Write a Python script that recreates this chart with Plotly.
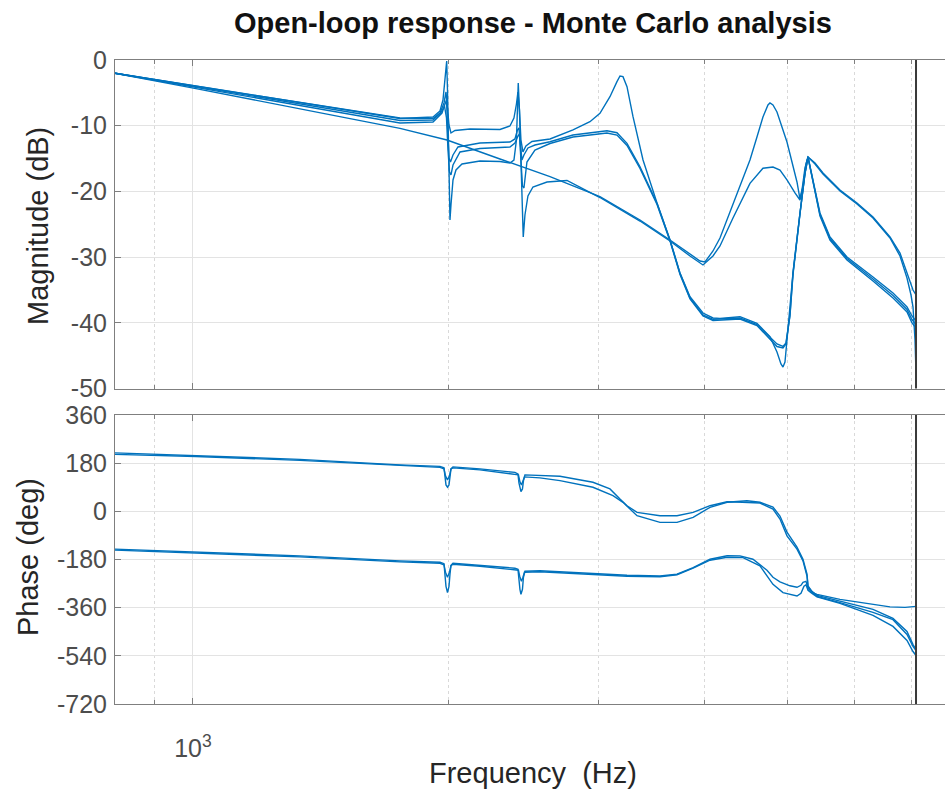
import math
import plotly.graph_objects as go

# ---------------- data ----------------
nyquist_hz = 7089.2

mag_tickvals = [-50, -40, -30, -20, -10, 0]
phase_tickvals = [-720, -540, -360, -180, 0, 180, 360]
freq_major = [1000]
freq_major_text = ["10<sup>3</sup>"]
freq_minor = [900, 2000, 3000, 4000, 5000, 6000, 7000]

# Magnitude curves (Hz, dB)
mag1_f = [809.6, 1752, 1916, 1952.5, 1973.8, 1984.5, 1992.6, 2000.7, 2011.5, 2033.5, 2118, 2297, 2359.8, 2385.6,
          2401.8, 2411.6, 2421.4, 2431.3, 2444.5, 2464.4, 2504.8, 2630.3, 2799.3, 2931, 3011.5, 3094.3, 3153.6,
          3179.5, 3205.4, 3240.4, 3293.6, 3384.2, 3514.8, 3640.7, 3740.7, 3843.5, 3981.1, 4090.4, 4168.7, 4400.7,
          4607.8, 4773, 4864.4, 4917.4, 4944.2, 4971.1, 4998.1, 5079.9, 5177.4, 5248, 5290.9, 5363, 5465.7, 5615.7,
          5880.3, 6309.6, 6660.8, 6918.3, 7012.7, 7089.2]
mag1_db = [-2.02, -8.83, -8.90, -8.07, -6.54, -4.87, -7.31, -9.89, -11.11, -10.73, -10.50, -10.58, -10.05, -8.83,
           -6.70, -4.87, -7.61, -12.18, -14.00, -13.09, -12.40, -12.02, -10.65, -9.39, -8.11, -5.59, -3.30,
           -2.44, -2.54, -4.06, -8.63, -15.22, -21.77, -27.40, -32.42, -36.03, -38.51, -39.27, -39.32, -39.07,
           -40.08, -42.12, -44.44, -46.27, -46.73, -45.97, -42.62, -32.42, -23.29, -17.20, -14.76, -18.26, -23.29,
           -26.94, -29.98, -33.03, -35.46, -37.60, -38.96, -39.73]

mag2_f = [809.6, 1752, 1916, 1963.1, 1979.1, 1987.2, 1992.6, 2000.7, 2008.8, 2022.5, 2050.1, 2175.7, 2359.8, 2392.1,
          2408.4, 2418.2, 2428, 2437.9, 2451.1, 2477.8, 2525.3, 2630.3, 2799.3, 3069.2, 3153.6, 3240.4, 3356.7,
          3514.8, 3640.7, 3740.7, 3843.5, 3981.1, 4090.4, 4400.7, 4607.8, 4773, 4864.4, 4944.2, 4984.5, 5038.8,
          5079.9, 5177.4, 5248, 5290.9, 5363, 5465.7, 5615.7, 5880.3, 6309.6, 6660.8, 6918.3, 7012.7, 7089.2]
mag2_db = [-2.02, -9.59, -9.44, -8.07, -6.70, -6.09, -9.89, -14.92, -15.53, -14.46, -13.24, -12.63, -12.48, -12.02,
           -10.65, -10.35, -12.94, -15.22, -14.46, -13.39, -12.94, -12.44, -11.42, -10.76, -11.07, -12.68, -16.24,
           -21.81, -27.40, -32.47, -36.23, -38.81, -39.47, -39.27, -40.26, -42.16, -43.23, -43.61, -43.07, -38.81,
           -32.42, -23.29, -17.20, -14.76, -18.57, -23.74, -27.40, -30.44, -33.64, -36.23, -38.36, -40.03, -40.79]

mag3_f = [809.6, 1752, 1916, 1957.8, 1976.5, 1987.2, 1995.3, 2003.4, 2011.5, 2022.5, 2061.3, 2175.7, 2359.8, 2392.1,
          2411.6, 2421.4, 2431.3, 2441.2, 2451.1, 2471.1, 2525.3, 2630.3, 2799.3, 3069.2, 3153.6, 3240.4, 3356.7,
          3514.8, 3640.7, 3740.7, 3843.5, 3981.1, 4090.4, 4400.7, 4607.8, 4773, 4864.4, 4944.2, 4984.5, 5038.8,
          5079.9, 5177.4, 5248, 5290.9, 5363, 5465.7, 5615.7, 5880.3, 6309.6, 6660.8, 6918.3, 7012.7, 7089.2]
mag3_db = [-2.02, -9.21, -9.13, -7.99, -7.00, -8.83, -13.70, -17.05, -17.50, -15.98, -14.00, -13.47, -13.24, -12.63,
           -11.57, -11.26, -15.22, -19.18, -19.48, -15.53, -13.70, -12.71, -11.72, -11.11, -11.42, -13.01, -16.51,
           -21.99, -27.55, -32.65, -36.38, -38.96, -39.65, -39.42, -40.41, -42.39, -43.61, -43.84, -43.23, -38.96,
           -32.72, -23.44, -17.35, -14.84, -18.42, -23.52, -27.17, -30.21, -33.33, -35.84, -37.98, -39.50, -40.26]

mag4_f = [809.6, 1008.2, 1752, 1989.9, 2297, 2630.3, 3011.5, 3356.7, 3640.7, 3843.5, 3948.9, 4002.7, 4090.4, 4168.7,
          4318, 4430.5, 4521.3, 4607.8, 4683.2, 4747.2, 4773, 4812, 4864.4, 4998.1, 5079.9, 5135.3, 5177.4, 5205.5,
          5248, 5290.9, 5392.2, 5510.2, 5770, 6041.8, 6309.6, 6606.9, 6788.4, 6918.3, 7031.8, 7089.2]
mag4_db = [-2.02, -4.35, -10.40, -12.18, -15.07, -17.76, -20.81, -24.35, -27.40, -29.53, -30.59, -30.75, -29.07,
           -27.09, -22.07, -18.26, -15.22, -11.72, -8.68, -6.85, -6.54, -6.85, -7.91, -12.48, -15.98, -18.57, -21.16,
           -19.79, -16.44, -14.76, -15.68, -17.20, -19.79, -21.77, -23.90, -26.94, -29.38, -32.42, -35.01, -35.77]

mag5_f = [809.6, 1752, 1916, 1952.5, 1968.4, 1979.1, 1988.3, 1992.6, 1998, 2006.1, 2011.5, 2022.5, 2039, 2072.5,
          2175.7, 2297, 2359.8, 2385.6, 2401.8, 2413.6, 2421.4, 2431.3, 2446.5, 2457.8, 2477.8, 2511.6, 2609,
          2754.2, 3011.5, 3356.7, 3640.7, 3843.5, 3981.1, 4090.4, 4168.7, 4318, 4521.3, 4683.2, 4812, 4904.1,
          4998.1, 5107.5, 5177.4, 5219.7, 5262.3, 5290.9, 5392.2, 5510.2, 5770, 6041.8, 6309.6, 6606.9, 6788.4,
          6918.3, 6993.7, 7031.8, 7070, 7089.2]
mag5_db = [-2.02, -8.90, -8.68, -7.76, -6.09, -3.35, -0.15, -4.57, -13.70, -24.35, -22.07, -18.26, -16.74, -15.83,
           -15.37, -15.45, -15.68, -15.22, -12.18, -3.50, -7.61, -16.74, -26.94, -23.59, -20.70, -19.33, -18.57,
           -18.34, -20.93, -24.51, -27.55, -29.83, -31.20, -29.83, -28.31, -24.05, -18.77, -16.48, -16.29, -16.74,
           -18.26, -20.24, -21.31, -19.18, -15.83, -14.76, -15.83, -17.35, -19.94, -21.92, -24.05, -27.09, -29.83,
           -33.18, -35.77, -37.60, -42.62, -47.64]

# Phase curves (Hz, deg)
ph1_f = [809.6, 1008.2, 1336, 1752, 1952.5, 1973.8, 1979.1, 1984.5, 1992.6, 2000.7, 2006.1, 2011.5, 2022.5, 2175.7,
         2392.1, 2411.6, 2418.2, 2424.7, 2431.3, 2441.2, 2447.8, 2457.8, 2559.3, 2702.2, 2955, 3094.3, 3179.5,
         3240.4, 3329.6, 3543.5, 3710.1, 3876.1, 4057.3, 4249.5, 4430.5, 4645.3, 4812, 4904.1, 4998.1, 5135.3,
         5219.7, 5276.6, 5290.9, 5348.5, 5421.5, 5770, 6309.6, 6660.8, 6918.3, 7031.8, 7089.2]
ph1_deg = [218.6, 208.5, 194.3, 173.6, 168, 162.4, 128.6, 98.6, 90, 98.6, 128.6, 158.6, 166.1, 158.6,
           145.5, 139.9, 106.1, 83.6, 73.5, 83.6, 113.6, 136.1, 134.25, 131.25, 108.75, 83.6, 46.1,
           21, -3.75, -16.5, -16.5, -3.75, 21, 36, 33.75, 31.1, 8.6, -28.9, -91.5, -141.4,
           -185.25, -241.5, -279, -298.9, -313.9, -336.4, -366.4, -400.1, -448.9, -497.6, -516.4]

ph2_f = [809.6, 1008.2, 1336, 1752, 1952.5, 1973.8, 1981.8, 1992.6, 2003.4, 2011.5, 2022.5, 2175.7, 2392.1, 2414.9,
         2424.7, 2434.6, 2444.5, 2454.4, 2559.3, 2702.2, 2955, 3119.6, 3205.4, 3329.6, 3543.5, 3710.1, 3876.1,
         4057.3, 4249.5, 4484.5, 4645.3, 4812, 4904.1, 4998.1, 5135.3, 5219.7, 5276.6, 5290.9, 5348.5, 5421.5,
         5770, 6309.6, 6660.8, 6918.3, 7031.8, 7089.2]
ph2_deg = [213, 204.75, 190.5, 169.9, 164.25, 158.6, 132.4, 117.4, 132.4, 158.6, 162.4, 154.9, 139.9, 136.1,
           109.9, 98.6, 113.6, 128.6, 124.9, 114.75, 90, 58.5, 33.75, -16.5, -41.25, -41.25, -22.5,
           15, 33.75, 39.75, 33.75, 16.1, -17.6, -77.6, -133.9, -178.9, -235.1, -280.1, -302.6, -317.6,
           -341.25, -377.6, -404.9, -460.1, -505.1, -520.1]

ph3_f = [809.6, 1008.2, 1336, 1752, 1952.5, 1973.8, 1979.1, 1984.5, 1992.6, 2000.7, 2006.1, 2011.5, 2022.5, 2175.7,
         2392.1, 2411.6, 2418.2, 2424.7, 2431.3, 2441.2, 2447.8, 2457.8, 2559.3, 2702.2, 2955, 3240.4, 3543.5,
         3710.1, 3876.1, 4057.3, 4249.5, 4400.7, 4558, 4734.3, 4812, 4904.1, 5038.8, 5135.3, 5191.4, 5219.7,
         5262.3, 5290.9, 5348.5, 5421.5, 5770, 6309.6, 6606.9, 6880.9, 7089.2]
ph3_deg = [-141.4, -151.5, -166.5, -185.25, -190.1, -195.75, -235.1, -280.1, -303.75, -280.1, -235.1, -201.4,
           -193.9, -201.4, -212.6, -216.4, -261.4, -291.4, -310.1, -291.4, -246.4, -223.9, -222, -225.75, -231.4,
           -238.9, -241.5, -235.1, -210, -178.9, -165.75, -166.5, -178.9, -220.1, -246.4, -263.25, -278.25,
           -283.9, -276.4, -265.1, -261.4, -287.6, -302.6, -310.1, -328.9, -347.6, -357, -358.9, -355.1]

ph4_f = [809.6, 1008.2, 1336, 1752, 1952.5, 1973.8, 1981.8, 1992.6, 2003.4, 2011.5, 2022.5, 2175.7, 2392.1, 2414.9,
         2424.7, 2434.6, 2444.5, 2454.4, 2559.3, 2702.2, 2955, 3240.4, 3543.5, 3710.1, 3876.1, 4057.3, 4249.5,
         4430.5, 4645.3, 4812, 4944.2, 5135.3, 5191.4, 5233.8, 5262.3, 5290.9, 5348.5, 5421.5, 5770, 6309.6,
         6660.8, 6918.3, 7031.8, 7089.2]
ph4_deg = [-145.1, -155.25, -170.25, -189, -193.9, -199.5, -227.6, -246.4, -227.6, -203.25, -197.6, -205.1,
           -216.4, -220.1, -246.4, -261.4, -246.4, -227.6, -225.75, -229.5, -235.1, -242.6, -244.5, -237,
           -212.6, -182.6, -171.4, -172.5, -204, -272.6, -303.75, -316.5, -306.4, -280.1, -274.5, -295.1,
           -306.4, -319.5, -343.9, -388.9, -430.1, -482.6, -523.9, -538.9]

mag_series = [(mag1_f, mag1_db), (mag2_f, mag2_db), (mag3_f, mag3_db), (mag4_f, mag4_db), (mag5_f, mag5_db)]
phase_series = [(ph1_f, ph1_deg), (ph2_f, ph2_deg), (ph3_f, ph3_deg), (ph4_f, ph4_deg)]

# ---------------- figure ----------------
LINE = "#0072BD"
FONT = "Liberation Sans, Arial, Helvetica, sans-serif"
TICKC = "#4d4d4d"
AXC = "#7f7f7f"
GRID = "#e3e3e3"
TICKSIZE = 25
LABELSIZE = 29

fig = go.Figure()
for f, v in mag_series:
    fig.add_trace(go.Scatter(x=f, y=v, mode="lines", line=dict(color=LINE, width=1.4),
                             xaxis="x", yaxis="y", showlegend=False, hoverinfo="skip"))
for f, v in phase_series:
    fig.add_trace(go.Scatter(x=f, y=v, mode="lines", line=dict(color=LINE, width=1.4),
                             xaxis="x2", yaxis="y2", showlegend=False, hoverinfo="skip"))

x_lo = math.log10(809.6)
x_hi = 3 + 752 / 850

xcommon = dict(type="log", range=[x_lo, x_hi], showline=True, linecolor=AXC, linewidth=1, mirror="ticks",
               ticks="inside", ticklen=6, tickcolor=AXC, showgrid=True, gridcolor=GRID, gridwidth=1,
               tickvals=freq_major, ticktext=freq_major_text, zeroline=False,
               minor=dict(tickvals=freq_minor, ticks="inside", ticklen=4, tickcolor=AXC, showgrid=True,
                          gridcolor="#d9d9d9", griddash="dot", gridwidth=1),
               tickfont=dict(family=FONT, size=TICKSIZE, color=TICKC))

ycommon = dict(showline=True, linecolor=AXC, linewidth=1, ticks="inside", ticklen=6, tickcolor=AXC,
               showgrid=True, gridcolor=GRID, zeroline=False, ticklabelstandoff=2,
               tickfont=dict(family=FONT, size=TICKSIZE, color=TICKC))

fig.update_layout(
    width=945, height=793,
    margin=dict(l=115, r=0, t=60, b=89),
    paper_bgcolor="white", plot_bgcolor="white",
    xaxis=dict(xcommon, domain=[0, 1], anchor="y", showticklabels=False),
    xaxis2=dict(xcommon, domain=[0, 1], anchor="y2", matches="x", showticklabels=True, ticklabelstandoff=22),
    yaxis=dict(ycommon, domain=[(704 - 388.5) / 644, 1], range=[-50, 0], anchor="x",
               tickvals=mag_tickvals, ticktext=[str(v) for v in mag_tickvals]),
    yaxis2=dict(ycommon, domain=[0, (704 - 415) / 644], range=[-720, 360], anchor="x2",
                tickvals=phase_tickvals, ticktext=[str(v) for v in phase_tickvals]),
)

# Nyquist frequency markers
for xr, yr in [("x", "y domain"), ("x2", "y2 domain")]:
    fig.add_shape(type="line", x0=nyquist_hz, x1=nyquist_hz, y0=0, y1=1, xref=xr, yref=yr,
                  line=dict(color="#3a3a3a", width=2))

fig.add_annotation(text="<b>Open-loop response - Monte Carlo analysis</b>", xref="paper", yref="paper",
                   x=(533 - 115) / 830, y=(704 - 23) / 644, showarrow=False, xanchor="center", yanchor="middle",
                   font=dict(family=FONT, size=29, color="#111111"))
fig.add_annotation(text="Magnitude (dB)", xref="paper", yref="paper", textangle=-90,
                   x=(38 - 115) / 830, y=(704 - 226) / 644, showarrow=False, xanchor="center", yanchor="middle",
                   font=dict(family=FONT, size=LABELSIZE, color="#262626"))
fig.add_annotation(text="Phase (deg)", xref="paper", yref="paper", textangle=-90,
                   x=(28 - 115) / 830, y=(704 - 557) / 644, showarrow=False, xanchor="center", yanchor="middle",
                   font=dict(family=FONT, size=LABELSIZE, color="#262626"))
fig.add_annotation(text="Frequency &nbsp;(Hz)", xref="paper", yref="paper",
                   x=(533 - 115) / 830, y=(704 - 773) / 644, showarrow=False, xanchor="center", yanchor="middle",
                   font=dict(family=FONT, size=LABELSIZE, color="#262626"))

fig.write_html("out.html", config={"displayModeBar": False},
               post_script="document.body.style.margin='0';document.body.style.overflow='hidden';")
